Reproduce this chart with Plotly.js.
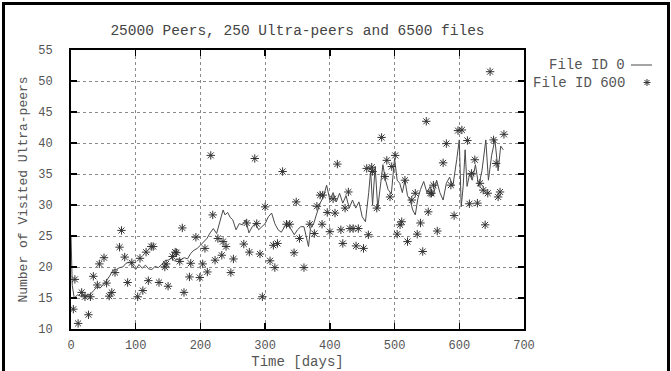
<!DOCTYPE html>
<html>
<head>
<meta charset="utf-8">
<script src="https://cdn.plot.ly/plotly-3.0.1.min.js"></script>
<style>
  html, body { margin: 0; padding: 0; background: #fff; }
  #wrap { position: relative; width: 671px; height: 371px; overflow: hidden; }
  #chart { width: 671px; height: 371px; }
  #frame { position: absolute; left: 2px; top: 2px; width: 662px; height: 400px;
           border-left: 3px solid #000; border-top: 3px solid #000; border-right: 3px solid #000;
           pointer-events: none; }
</style>
</head>
<body>
<div id="wrap"><div id="chart"></div><div id="frame"></div></div>
<script>
// ---- Data ----
const titleText = "25000 Peers, 250 Ultra-peers and 6500 files";
const xTitle = "Time [days]";
const yTitle = "Number of Visited Ultra-peers";
const seriesNames = ["File ID 0", "File ID 600"];

// File ID 0 (line)
const file0Days = [0,2,5,10,15,20,25,30,35,40,45,50,55,60,65,70,75,80,85,90,95,100,105,110,115,120,125,130,135,140,145,150,155,160,165,170,175,180,185,190,195,200,205,210,215,220,225,230,235,238,242,246,250,255,260,265,270,275,280,285,290,295,300,305,310,315,320,325,330,335,340,345,350,355,360,364,367,370,375,380,385,390,395,400,405,410,415,420,425,430,435,440,445,450,455,460,463,466,470,474,478,482,486,490,495,500,504,508,512,516,520,524,528,532,536,540,545,550,555,560,565,570,575,580,585,590,596,600,603,606,609,612,616,620,625,630,635,641,645,650,655,660,664,668];
const file0Vals = [25,17,15,15.5,15.3,15.5,15.4,15.6,16.2,16.8,16.6,17.2,17.8,18.6,19.5,19.6,19.9,20.0,20.6,20.8,20.3,19.6,20.4,19.8,20.3,19.7,19.6,20.1,19.9,20.4,21.0,21.1,21.4,21.0,21.3,21.2,21.5,21.3,22.2,22.7,23.0,23.5,24.0,24.6,25.5,26.2,25.4,27.5,29.2,28.4,28.8,28.0,27.6,26.0,27.0,26.8,27.6,25.5,26.5,27.0,26.0,26.5,27.0,28.1,28.7,27.0,26.0,25.6,26.5,27.0,26.0,25.2,26.0,26.5,26.5,24.9,23.3,26.2,27.0,28.7,30.3,31.3,33.2,30.8,32.0,30.5,31.9,30.3,31.5,29.5,30.8,29.5,30.5,28.1,27.3,32.0,35.5,30.0,36.2,29.5,33.0,36.5,34.0,32.5,31.8,37.5,34.0,33.5,32.0,34.0,31.5,30.8,29.2,28.4,31.0,32.5,33.8,32.0,33.0,31.5,34.0,32.0,30.8,33.5,34.5,33.0,37.3,40.5,29.7,33.0,38.9,33.0,35.0,34.0,36.5,33.0,35.5,40.5,34.0,38.0,40.5,35.5,39.5,38.9];

// File ID 600 (points)
const file600Days = [3.6,6,11,16.5,21.6,27,30,34.5,40.7,43.8,51,55,59,63,68,75,78,83,87.5,94,103,106.6,111,116,119.5,124,127,136,145,147,150,157,161,163,168,172,174.6,183,185,193,199,203.5,207,210.7,216,219,222.6,227,233,235,239.6,247,251,267,271.5,275.6,284,287,292,295.7,300,307.6,312.7,315,319,327,333,338,344.7,348,353,360,369,376,380,385,389,388,396,400,405,408,411.6,417,420,423.5,428.6,431,436,440.5,444,452,457,459.5,464.7,466,472.5,480,485,488,493,495.6,501,504,508.5,511,516,520,526.6,532,535,540,543.5,549,552,555,557,560,566,575,580,587,592,598,604,612.5,615.6,619,624,628,632,637,640,644,647.6,653,657,660,663,669];
const file600Vals = [13.2,18.0,10.9,15.9,15.2,12.3,15.2,18.5,17.1,20.5,21.5,17.4,15.3,15.9,19.1,23.2,25.9,21.6,17.5,20.7,15.2,21.4,16.2,22.4,17.8,23.3,23.3,17.5,20.0,20.5,16.9,21.7,22.4,22.3,20.9,26.3,15.9,18.4,20.6,24.8,18.3,20.5,23.0,19.2,38.0,28.4,21.1,24.6,21.9,24.1,23.3,19.1,21.3,23.7,27.1,22.4,37.5,27.0,22.1,15.2,29.7,21.0,23.5,19.9,23.8,35.4,26.9,26.9,22.3,30.5,24.6,19.9,26.9,25.4,29.8,31.6,31.6,26.9,28.8,25.7,31.0,28.7,36.6,26.0,23.8,29.5,32.1,26.2,26.2,23.4,26.2,23.0,35.9,25.2,36.1,35.4,29.5,40.9,34.6,37.2,31.3,36.2,38.0,25.3,26.8,27.3,34.0,24.1,30.8,31.9,25.3,27.1,22.5,43.5,28.9,31.9,31.9,33.2,25.8,36.8,39.9,33.2,28.3,42.0,42.1,40.4,30.2,35.1,37.3,30.3,33.5,32.4,26.8,31.9,51.5,40.5,36.7,31.3,32.1,41.4];

const xTickVals = [0,100,200,300,400,500,600,700];
const yTickVals = [10,15,20,25,30,35,40,45,50,55];

// ---- Styling ----
const MONO = "Liberation Mono, Courier New, monospace";
const textGray = "#555";
const L = 71, R = 524, T = 50, B = 329, W = 671, H = 371;
const px2x = p => (p - L) / (R - L);
const px2y = p => (B - p) / (B - T);

const traces = [
  { x: file0Days, y: file0Vals, type: "scatter", mode: "lines", name: seriesNames[0],
    line: { color: "#4a4a4a", width: 1 }, showlegend: false },
  { x: file600Days, y: file600Vals, type: "scatter", mode: "markers", name: seriesNames[1],
    marker: { symbol: "asterisk-open", size: 7, color: "#333", line: { color: "#333", width: 1 } },
    showlegend: false }
];

const axisCommon = {
  ticks: "inside", ticklen: 6, tickwidth: 1.5, tickcolor: "#000",
  showline: true, linecolor: "#000", linewidth: 2, mirror: "ticks",
  showgrid: true, gridcolor: "#8a8a8a", griddash: "dot", gridwidth: 1,
  zeroline: false, tickfont: { family: MONO, size: 12, color: textGray }
};

const layout = {
  width: W, height: H,
  margin: { l: L, r: W - R, t: T, b: H - B, pad: 0 },
  paper_bgcolor: "#fff", plot_bgcolor: "#fff",
  showlegend: false,
  title: { text: titleText, font: { family: MONO, size: 14.5, color: "#444" },
           xref: "paper", x: 0.5, xanchor: "center", yref: "container", y: 1 - 30 / H, yanchor: "middle" },
  xaxis: Object.assign({}, axisCommon, {
    range: [0, 700], tickvals: xTickVals, ticklabelstandoff: 4,
    title: { text: xTitle, font: { family: MONO, size: 14, color: textGray }, standoff: 4 }
  }),
  yaxis: Object.assign({}, axisCommon, {
    range: [10, 55], tickvals: yTickVals, ticklabelstandoff: 14,
    title: { text: yTitle, font: { family: MONO, size: 13, color: textGray }, standoff: 8 }
  }),
  annotations: [
    { xref: "paper", yref: "paper", x: px2x(627), y: px2y(65), xanchor: "right", yanchor: "middle",
      text: seriesNames[0], showarrow: false, font: { family: MONO, size: 14, color: textGray } },
    { xref: "paper", yref: "paper", x: px2x(627), y: px2y(82.5), xanchor: "right", yanchor: "middle",
      text: seriesNames[1], showarrow: false, font: { family: MONO, size: 14, color: textGray } }
  ],
  shapes: [
    { type: "line", xref: "paper", yref: "paper", x0: px2x(631), x1: px2x(652), y0: px2y(65), y1: px2y(65),
      line: { color: "#4a4a4a", width: 1 } },
    { type: "path", xref: "paper", yref: "paper", xsizemode: "pixel", ysizemode: "pixel",
      xanchor: px2x(647), yanchor: px2y(82.5),
      path: "M-3.5,0L3.5,0M0,-3.5L0,3.5M-2.5,-2.5L2.5,2.5M-2.5,2.5L2.5,-2.5", line: { color: "#333", width: 1 } }
  ]
};

Plotly.newPlot("chart", traces, layout, { staticPlot: true, displayModeBar: false });
</script>
</body>
</html>
